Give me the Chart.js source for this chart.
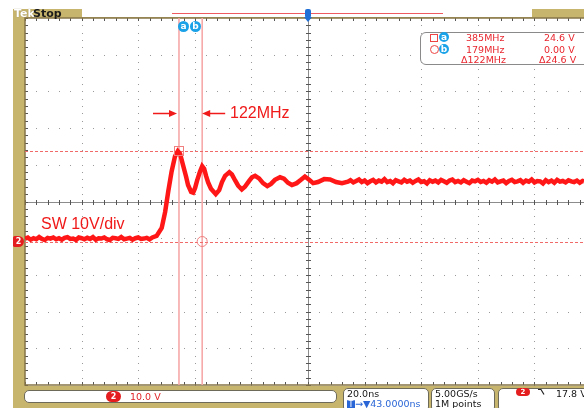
<!DOCTYPE html>
<html>
<head>
<meta charset="utf-8">
<script src="https://cdn.jsdelivr.net/npm/chart.js@4/dist/chart.umd.min.js"></script>
<style>
  body { margin: 0; background: #fff; overflow: hidden; }
  #scope { position: relative; width: 584px; height: 408px; font-family: "DejaVu Sans", sans-serif; }
  .tan { position: absolute; background: #c8b56d; }
  #grafica { position: absolute; left: 0; top: 0; z-index: 1; }
  .ov { position: absolute; z-index: 2; white-space: nowrap; }
  .big { font-family: "Liberation Sans", Arial, sans-serif; font-size: 16px; line-height: 16px; color: #f01a1a; }
  .badge { width: 11px; height: 11px; border-radius: 6px; background: #1aa2e8; color: #fff;
           font: bold 9px/11px "DejaVu Sans", sans-serif; text-align: center; }
  .pill { background: #e41e1e; color: #fff; font: bold 8px/11px "DejaVu Sans", sans-serif; text-align: center; border-radius: 6px; }
  .panel { position: absolute; z-index: 2; background: #fff; border: 1px solid #6e6a5a; border-radius: 5px; box-sizing: border-box; }
  .ptxt { position: absolute; z-index: 3; font-size: 9.5px; line-height: 10px; color: #151515; white-space: nowrap; }
  .rd { position: absolute; z-index: 3; font-size: 9.5px; line-height: 11px; color: #e8262e; white-space: nowrap; }
</style>
</head>
<body>
<div id="scope">
  <div class="tan" style="left:13px;top:9px;width:571px;height:10px"></div>
  <div class="tan" style="left:13px;top:9px;width:12px;height:399px"></div>
  <div class="tan" style="left:13px;top:386px;width:571px;height:22px"></div>
  <canvas id="grafica" width="584" height="408"></canvas>

  <!-- barra superior -->
  <div class="ov" style="left:14px;top:8px;font:bold 11px/12px 'DejaVu Sans';color:#fff;text-shadow:0 0 1px #8a7a48">Tek</div>
  <div class="ov" style="left:33px;top:8px;font:bold 11px/12px 'DejaVu Sans';color:#1a1a1a">Stop</div>
  <div class="ov" style="left:82px;top:9px;width:450px;height:8px;background:#fff"></div>
  <div class="ov" style="left:172px;top:13px;width:271px;height:1px;background:#ee5a60"></div>
  <div class="ov" style="left:305px;top:9px;width:6px;height:9px;border-radius:2px;background:#1f6fd6"></div>
  <div class="ov" style="left:304px;top:17px;width:0;height:0;border-left:4px solid transparent;border-right:4px solid transparent;border-top:5px solid #1f6fd6"></div>

  <!-- cursores -->
  <div class="ov badge" style="left:178px;top:21px">a</div>
  <div class="ov badge" style="left:190px;top:21px">b</div>

  <!-- anotaciones -->
  <div class="ov big" style="left:230px;top:105px">122MHz</div>
  <div class="ov big" style="left:41px;top:216px">SW 10V/div</div>
  <div class="ov pill" style="left:13px;top:236px;width:11px;height:11px;border-radius:2px 6px 6px 2px">2</div>

  <!-- lectura de cursores -->
  <div class="panel" style="left:420px;top:32px;width:180px;height:33px;border-color:#8a8a8a;border-radius:6px"></div>
  <div class="ov" style="left:430px;top:34px;width:8px;height:8px;border:1px solid #e44;box-sizing:border-box"></div>
  <div class="ov badge" style="left:439px;top:32px;width:10px;height:10px;line-height:10px">a</div>
  <div class="rd" style="left:466px;top:32px">385MHz</div>
  <div class="rd" style="left:544px;top:32px">24.6 V</div>
  <div class="ov" style="left:430px;top:45px;width:9px;height:9px;border:1px solid #e44;border-radius:5px;box-sizing:border-box"></div>
  <div class="ov badge" style="left:439px;top:44px;width:10px;height:10px;line-height:10px">b</div>
  <div class="rd" style="left:466px;top:43.5px">179MHz</div>
  <div class="rd" style="left:544px;top:43.5px">0.00 V</div>
  <div class="rd" style="left:461px;top:54px">&Delta;122MHz</div>
  <div class="rd" style="left:539px;top:54px">&Delta;24.6 V</div>

  <!-- paneles inferiores -->
  <div class="panel" style="left:24px;top:390px;width:313px;height:13px"></div>
  <div class="ov pill" style="left:106px;top:391px;width:15px;height:11px">2</div>
  <div class="ptxt" style="left:130px;top:391.5px;color:#e0262a">10.0 V</div>

  <div class="panel" style="left:343px;top:388px;width:86px;height:24px"></div>
  <div class="ptxt" style="left:347px;top:388.5px">20.0ns</div>
  <div class="ptxt" style="left:347px;top:398.5px;color:#2a66d6"><span style="display:inline-block;width:8px;height:9px;background:#2a66d6;color:#fff;font-size:8px;line-height:9px;text-align:center;border-radius:1px">T</span>&#x2192;&#x25BC;43.0000ns</div>

  <div class="panel" style="left:431px;top:388px;width:64px;height:24px"></div>
  <div class="ptxt" style="left:435px;top:388.5px">5.00GS/s</div>
  <div class="ptxt" style="left:435px;top:398.5px">1M points</div>

  <div class="panel" style="left:498px;top:388px;width:100px;height:24px"></div>
  <div class="ov pill" style="left:516px;top:388px;width:14px;height:8px;line-height:8px;font-size:7px">2</div>
  <svg class="ov" style="left:537px;top:388px" width="9" height="8"><path d="M1 1.5 H4 L7 6.5" stroke="#222" stroke-width="1.2" fill="none"/></svg>
  <div class="ptxt" style="left:556px;top:388.5px">17.8 V</div>
</div>

<script>
// base de tiempo en ns, canal en V (20 ns/div, 10 V/div)
const timeMin = 0;
const timeMax = 197.5;
const voltMin = -39.1;
const voltMax = 60.9;
const gridTimes = [0, 20, 40, 60, 80, 100, 120, 140, 160, 180];
const gridVolts = [-39.1, -29.1, -19.1, -9.1, 0.9, 10.9, 20.9, 30.9, 40.9, 50.9, 60.9];
const centerTime = 100;
const centerVolt = 10.9;

// cursores a y b
const cursorTimes = [54.4, 62.6];
const cursorVolts = [24.6, 0];

const traceTime = [
  0, 1, 2, 3, 4, 5, 6, 7, 8, 9, 10, 11, 12, 13, 14, 15, 16, 17, 18, 19, 20, 21, 22,
  23, 24, 25, 26, 27, 28, 29, 30, 31, 32, 33, 34, 35, 36, 37, 38, 39, 40, 41, 42, 43, 44, 45,
  46.5, 48.3, 49.5, 50.6, 51.8, 53.0, 54.0, 54.8, 55.8, 56.9, 57.6, 58.7, 59.4, 60.1,
  60.8, 61.8, 62.6, 63.3, 64.0, 64.7, 65.7, 67.4, 68.6, 69.6, 70.7, 72.2, 73.1, 74.2, 75.3,
  76.6, 77.7, 79.2, 80.2, 81.3, 82.7, 84.1, 85.6, 86.9, 88.3, 90.1, 91.5, 92.9, 94.3, 96.0,
  97.5, 98.9, 100.4, 101.8, 103.5, 105.7, 107.8, 109.9, 112.0, 114.1,
  115, 116, 117, 118, 119, 120, 121, 122, 123, 124, 125, 126, 127, 128, 129, 130, 131, 132, 133, 134,
  135, 136, 137, 138, 139, 140, 141, 142, 143, 144, 145, 146, 147, 148, 149, 150, 151, 152, 153, 154,
  155, 156, 157, 158, 159, 160, 161, 162, 163, 164, 165, 166, 167, 168, 169, 170, 171, 172, 173, 174,
  175, 176, 177, 178, 179, 180, 181, 182, 183, 184, 185, 186, 187, 188, 189, 190, 191, 192, 193, 194,
  195, 196, 197, 197.5
];
const traceVolt = [
  0.8, 1.1, 0.5, 0.9, 0.6, 1.2, 0.7, 0.4, 1.0, 0.8, 1.1, 0.6, 0.9, 0.5, 1.0, 1.2, 0.7, 0.8, 0.4, 1.1, 0.9, 0.6, 1.0,
  0.7, 1.2, 0.5, 0.9, 0.8, 1.1, 0.6, 0.4, 1.0, 0.9, 0.7, 1.2, 0.6, 0.8, 1.0, 0.5, 0.9, 1.1, 0.7, 0.8, 1.0, 0.6, 1.1,
  1.5, 3.7, 8.0, 13.6, 19.1, 23.2, 24.6, 23.9, 20.9, 17.7, 15.4, 13.5, 13.3, 14.6,
  16.6, 19.0, 20.5, 19.8, 17.8, 16.1, 14.4, 12.9, 14.0, 16.2, 17.9, 18.9, 18.3, 16.7, 15.2,
  14.2, 14.9, 16.5, 17.5, 17.9, 17.2, 15.9, 15.1, 15.7, 16.8, 17.5, 17.1, 16.0, 15.4, 15.9,
  16.8, 17.7, 16.8, 15.9, 16.2, 17.0, 16.9, 16.2, 15.9, 16.3,
  16.7, 16.1, 16.5, 16.9, 16.2, 16.6, 15.9, 16.4, 16.8, 16.1, 16.6, 16.3, 17.0, 16.2, 16.5, 15.9, 16.7, 16.4, 16.1, 16.8,
  16.3, 16.6, 16.0, 16.5, 16.9, 16.2, 16.4, 15.8, 16.7, 16.3, 16.6, 16.1, 16.8, 16.4, 16.0, 16.6, 16.9, 16.2, 16.5, 16.1,
  16.7, 16.3, 15.9, 16.6, 16.4, 16.8, 16.2, 16.5, 16.0, 16.7, 16.3, 16.9, 16.1, 16.4, 16.6, 15.9, 16.5, 16.8, 16.2, 16.4,
  16.7, 16.0, 16.6, 16.3, 16.9, 16.1, 16.5, 16.4, 15.8, 16.7, 16.2, 16.6, 16.0, 16.8, 16.3, 16.5, 16.1, 16.7, 16.4, 16.2,
  16.6, 16.0, 16.5, 16.4
];

const puntos = traceTime.map((t, i) => ({ x: t, y: traceVolt[i] }));

// graticula, cursores y flechas dibujados con las escalas
const pantalla = {
  id: 'pantalla',
  beforeDatasetsDraw(chart) {
    const { ctx, chartArea: a, scales: { x, y } } = chart;
    ctx.save();
    ctx.fillStyle = '#fff';
    ctx.fillRect(a.left, a.top, a.right - a.left, a.bottom - a.top);

    // puntos de la graticula
    ctx.fillStyle = '#9a9a9a';
    gridTimes.forEach(t => {
      if (t === timeMin || t === centerTime) return;
      const px = Math.round(x.getPixelForValue(t));
      for (let v = voltMin; v <= voltMax + 0.01; v += 2) {
        ctx.fillRect(px, Math.round(y.getPixelForValue(v)), 1, 1);
      }
    });
    gridVolts.forEach(v => {
      if (v === voltMin || v === voltMax || v === centerVolt) return;
      const py = Math.round(y.getPixelForValue(v));
      for (let t = timeMin; t <= timeMax; t += 4) {
        ctx.fillRect(Math.round(x.getPixelForValue(t)), py, 1, 1);
      }
    });

    // ejes centrales con marcas
    const cx = Math.round(x.getPixelForValue(centerTime)) + 0.5;
    const cy = Math.round(y.getPixelForValue(centerVolt)) + 0.5;
    ctx.strokeStyle = '#8c8c8c';
    ctx.lineWidth = 1;
    ctx.beginPath();
    ctx.moveTo(cx, a.top); ctx.lineTo(cx, a.bottom);
    ctx.moveTo(a.left, cy); ctx.lineTo(a.right, cy);
    ctx.stroke();
    ctx.strokeStyle = '#555';
    ctx.beginPath();
    for (let v = voltMin; v <= voltMax + 0.01; v += 2) {
      const py = Math.round(y.getPixelForValue(v)) + 0.5;
      ctx.moveTo(cx - 2.5, py); ctx.lineTo(cx + 2.5, py);
      ctx.moveTo(a.left, py); ctx.lineTo(a.left + 3, py);
    }
    for (let t = timeMin; t <= timeMax; t += 4) {
      const px = Math.round(x.getPixelForValue(t)) + 0.5;
      ctx.moveTo(px, cy - 2.5); ctx.lineTo(px, cy + 2.5);
      ctx.moveTo(px, a.top); ctx.lineTo(px, a.top + 3);
      ctx.moveTo(px, a.bottom); ctx.lineTo(px, a.bottom - 3);
    }
    ctx.stroke();

    // borde
    ctx.strokeStyle = '#857448';
    ctx.lineWidth = 1.5;
    ctx.beginPath();
    ctx.moveTo(a.right, a.top); ctx.lineTo(a.left, a.top);
    ctx.lineTo(a.left, a.bottom); ctx.lineTo(a.right, a.bottom);
    ctx.stroke();

    // cursores
    ctx.strokeStyle = '#f7a9a9';
    ctx.lineWidth = 1.6;
    ctx.beginPath();
    cursorTimes.forEach(t => {
      const px = x.getPixelForValue(t);
      ctx.moveTo(px, a.top); ctx.lineTo(px, a.bottom);
    });
    ctx.stroke();
    ctx.strokeStyle = '#f06a6a';
    ctx.lineWidth = 1;
    ctx.setLineDash([3, 2]);
    ctx.beginPath();
    cursorVolts.forEach(v => {
      const py = Math.round(y.getPixelForValue(v)) + 0.5;
      ctx.moveTo(a.left, py); ctx.lineTo(a.right, py);
    });
    ctx.stroke();
    ctx.restore();
  },
  afterDatasetsDraw(chart) {
    const { ctx, scales: { x, y } } = chart;
    const xa = x.getPixelForValue(cursorTimes[0]);
    const xb = x.getPixelForValue(cursorTimes[1]);
    ctx.save();
    ctx.strokeStyle = '#f08080';
    ctx.lineWidth = 1;
    ctx.strokeRect(Math.round(xa) - 4.5, Math.round(y.getPixelForValue(cursorVolts[0])) - 4.5, 9, 9);
    ctx.beginPath();
    ctx.arc(xb, y.getPixelForValue(cursorVolts[1]), 5, 0, Math.PI * 2);
    ctx.stroke();

    // flechas de la anotacion
    const ay = 113.5;
    ctx.strokeStyle = '#f01a1a';
    ctx.fillStyle = '#f01a1a';
    ctx.lineWidth = 1.5;
    const flecha = (x0, x1) => {
      const d = Math.sign(x1 - x0);
      ctx.beginPath();
      ctx.moveTo(x0, ay); ctx.lineTo(x1 - d * 6, ay);
      ctx.stroke();
      ctx.beginPath();
      ctx.moveTo(x1, ay); ctx.lineTo(x1 - d * 8, ay - 3.5); ctx.lineTo(x1 - d * 8, ay + 3.5);
      ctx.closePath();
      ctx.fill();
    };
    flecha(xa - 26, xa - 2);
    flecha(xb + 23, xb);
    ctx.restore();
  }
};

const ctx = document.getElementById('grafica').getContext('2d');
new Chart(ctx, {
  type: 'line',
  data: {
    datasets: [{
      label: 'SW',
      data: puntos,
      borderColor: '#ff1616',
      borderWidth: 4.5,
      pointRadius: 0,
      tension: 0,
      fill: false
    }]
  },
  options: {
    responsive: false,
    animation: false,
    devicePixelRatio: 1,
    layout: { padding: { left: 25, top: 18, right: 0, bottom: 23 } },
    plugins: { legend: { display: false }, tooltip: { enabled: false } },
    scales: {
      x: { type: 'linear', min: timeMin, max: timeMax, display: false },
      y: { type: 'linear', min: voltMin, max: voltMax, display: false }
    }
  },
  plugins: [pantalla]
});
</script>
</body>
</html>
